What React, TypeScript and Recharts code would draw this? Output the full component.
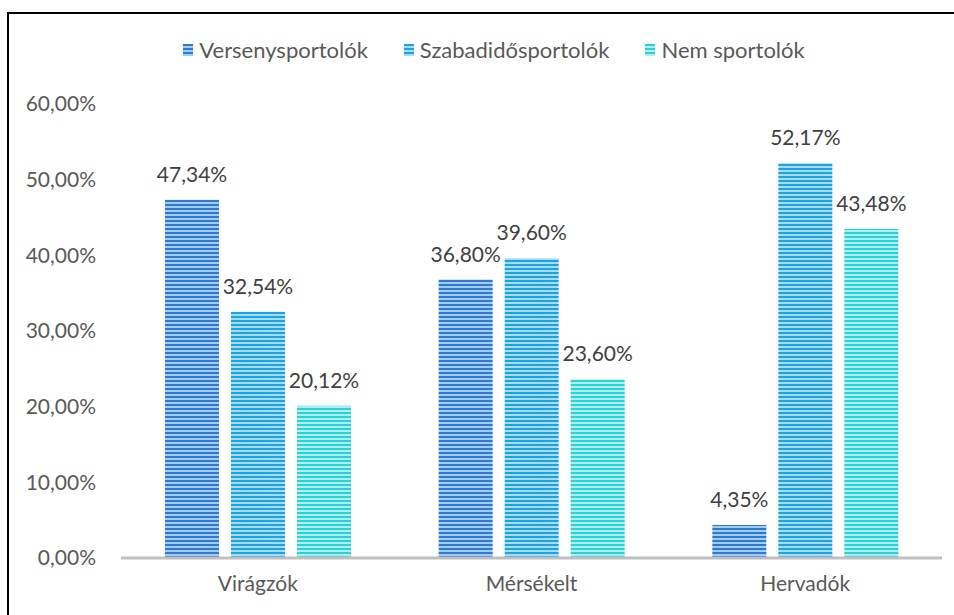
import React from "react";
import { BarChart, Bar, XAxis, YAxis, LabelList } from "recharts";

const categories = ["Virágzók", "Mérsékelt", "Hervadók"];
const versenysportolok = [47.34, 36.8, 4.35];
const szabadidosportolok = [32.54, 39.6, 52.17];
const nemSportolok = [20.12, 23.6, 43.48];
const yTicks = [0, 10, 20, 30, 40, 50, 60];

const series = [
  { key: "verseny", name: "Versenysportolók", dark: "#2e78cf", light: "#a2cbf1" },
  { key: "szabad", name: "Szabadidősportolók", dark: "#1ea2e1", light: "#a4def6" },
  { key: "nem", name: "Nem sportolók", dark: "#2bd2d4", light: "#aeedee" },
];

const data = categories.map((c, i) => ({
  name: c,
  verseny: versenysportolok[i],
  szabad: szabadidosportolok[i],
  nem: nemSportolok[i],
}));

const pct = (v: number) => v.toFixed(2).replace(".", ",") + "%";
const font = "Lato, 'Open Sans', sans-serif";

const Legend = () => (
  <div
    style={{
      position: "absolute",
      top: 36,
      left: 0,
      width: 954,
      display: "flex",
      justifyContent: "center",
      gap: 36,
      fontFamily: font,
      fontSize: 22,
      color: "#595959",
      paddingLeft: 34,
      boxSizing: "border-box",
    }}
  >
    {series.map((s) => (
      <div key={s.key} style={{ display: "flex", alignItems: "center" }}>
        <svg width={10} height={12} style={{ marginRight: 6 }}>
          <rect width={10} height={12} fill={`url(#pat-${s.key})`} />
        </svg>
        {s.name}
      </div>
    ))}
  </div>
);

export default function App() {
  return (
    <div style={{ position: "absolute", left: 0, top: 0, width: 954, height: 615, background: "#fff" }}>
      <div
        style={{
          position: "absolute",
          left: 7,
          top: 12,
          width: 960,
          height: 620,
          borderTop: "2px solid #000",
          borderLeft: "2px solid #000",
        }}
      />
      <BarChart
        width={954}
        height={615}
        data={data}
        margin={{ top: 104, right: 12, bottom: 27, left: 0 }}
        barGap={12}
        barCategoryGap={44}
      >
        <defs>
          {series.map((s) => (
            <pattern key={s.key} id={`pat-${s.key}`} patternUnits="userSpaceOnUse" width={4} height={4}>
              <rect x={0} y={0} width={4} height={4} fill={s.light} />
              <rect x={0} y={0} width={4} height={2} fill={s.dark} />
            </pattern>
          ))}
        </defs>
        <XAxis
          dataKey="name"
          height={30}
          tickLine={false}
          tickSize={0}
          tickMargin={18}
          axisLine={{ stroke: "#bfbfbf", strokeWidth: 3 }}
          tick={{ fill: "#595959", fontSize: 21, fontFamily: font }}
        />
        <YAxis
          width={121}
          domain={[0, 60]}
          ticks={yTicks}
          tickFormatter={pct}
          axisLine={false}
          tickLine={false}
          tickSize={0}
          tickMargin={25}
          tick={{ fill: "#595959", fontSize: 21, fontFamily: font }}
        />
        {series.map((s) => (
          <Bar key={s.key} dataKey={s.key} name={s.name} fill={`url(#pat-${s.key})`} isAnimationActive={false}>
            <LabelList
              dataKey={s.key}
              position="top"
              offset={18}
              formatter={(v: any) => pct(Number(v))}
              style={{ fill: "#404040", fontSize: 21, fontFamily: font }}
            />
          </Bar>
        ))}
      </BarChart>
      <Legend />
    </div>
  );
}
